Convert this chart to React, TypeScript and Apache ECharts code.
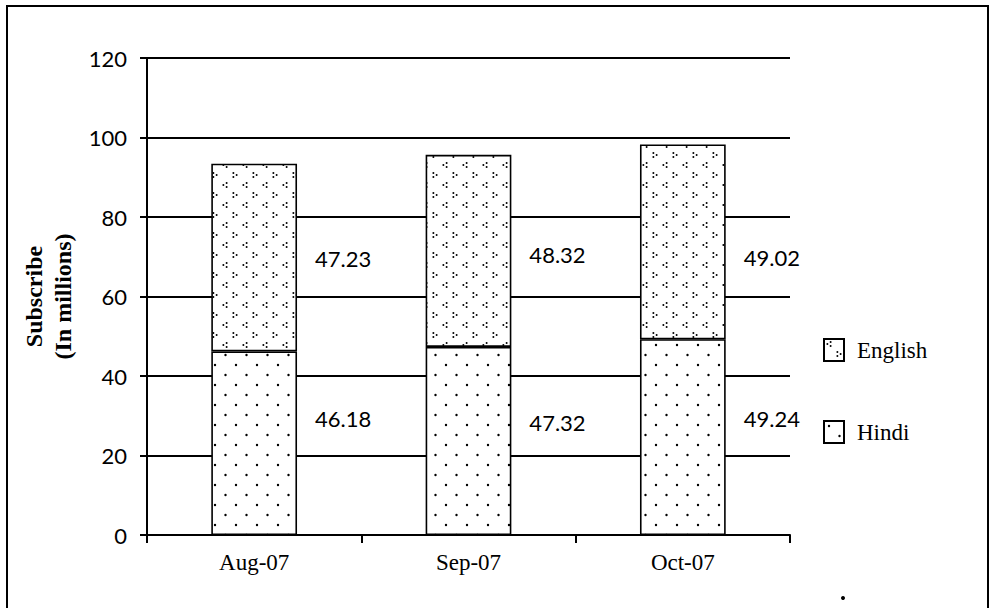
import React, { useEffect, useRef } from "react";
import * as echarts from "echarts";

const categories = ["Aug-07", "Sep-07", "Oct-07"];
const hindi = [46.18, 47.32, 49.24];
const english = [47.23, 48.32, 49.02];
const yTicks = { min: 0, max: 120, interval: 20 };
// vertical nudges (px) of the value labels, as placed in the original
const hindiLabelDy = [-25, -18, -19];
const englishLabelDy = [1, 4, 16];

function svgUrl(body: string, w: number, h: number) {
  const s = `<svg xmlns="http://www.w3.org/2000/svg" width="${w}" height="${h}"><rect width="${w}" height="${h}" fill="#fff"/>${body}</svg>`;
  return "data:image/svg+xml;charset=utf-8," + encodeURIComponent(s);
}

const hindiPattern = {
  image: svgUrl(
    `<circle cx="5" cy="5" r="1.2" fill="#000"/><circle cx="15.5" cy="15" r="1.2" fill="#000"/>`,
    21,
    20
  ),
  imageWidth: 21,
  imageHeight: 20,
  repeat: "repeat",
};

function chev(cx: number, cy: number, left: boolean) {
  const d = left ? 1 : -1;
  return `<circle cx="${cx + d * 1.6}" cy="${cy - 1.9}" r="1" fill="#000"/><circle cx="${cx - d * 1.6}" cy="${cy}" r="1" fill="#000"/><circle cx="${cx + d * 1.6}" cy="${cy + 1.9}" r="1" fill="#000"/>`;
}

const englishPattern = {
  image: svgUrl(chev(5, 5, true) + chev(15, 15, false), 20, 20),
  imageWidth: 20,
  imageHeight: 20,
  repeat: "repeat",
};

export default function App() {
  const ref = useRef<HTMLDivElement>(null);
  useEffect(() => {
    if (!ref.current) return;
    const chart = echarts.init(ref.current, null, { renderer: "svg" });
    const labelFont = { fontFamily: "Lato", fontSize: 22, color: "#000" };
    const mkData = (vals: number[], dys: number[]) =>
      vals.map((v, i) => ({ value: v, label: { offset: [0, dys[i]] } }));
    chart.setOption({
      animation: false,
      backgroundColor: "#fff",
      grid: { left: 147, right: 203, top: 58, bottom: 73 },
      legend: {
        orient: "vertical",
        left: 823,
        top: 338,
        padding: 0,
        icon: "rect",
        itemWidth: 20,
        itemHeight: 22,
        itemGap: 58,
        data: ["English", "Hindi"],
        textStyle: {
          fontFamily: "Liberation Serif",
          fontSize: 23,
          color: "#000",
          padding: [0, 0, 0, 8],
        },
      },
      xAxis: {
        type: "category",
        data: categories,
        axisLine: { lineStyle: { color: "#000", width: 2 } },
        axisTick: { show: true, length: 8, lineStyle: { color: "#000", width: 2 } },
        axisLabel: {
          margin: 16,
          fontFamily: "Liberation Serif",
          fontSize: 23,
          color: "#000",
        },
      },
      yAxis: {
        type: "value",
        min: yTicks.min,
        max: yTicks.max,
        interval: yTicks.interval,
        name: "Subscribe\n(In millions)",
        nameLocation: "middle",
        nameRotate: 90,
        nameGap: 59,
        nameTextStyle: {
          fontFamily: "Liberation Serif",
          fontWeight: "bold",
          fontSize: 24,
          lineHeight: 29,
          color: "#000",
        },
        axisLine: { show: true, lineStyle: { color: "#000", width: 2 } },
        axisTick: { show: true, length: 7, lineStyle: { color: "#000", width: 2 } },
        axisLabel: { margin: 20, ...labelFont },
        splitLine: { show: true, lineStyle: { color: "#000", width: 2.2 } },
      },
      series: [
        {
          name: "Hindi",
          type: "bar",
          stack: "total",
          barWidth: "40%",
          data: mkData(hindi, hindiLabelDy),
          itemStyle: { color: hindiPattern, borderColor: "#000", borderWidth: 1.6 },
          label: {
            show: true,
            position: "right",
            distance: 18,
            formatter: (p: any) => Number(p.value).toFixed(2),
            ...labelFont,
          },
        },
        {
          name: "English",
          type: "bar",
          stack: "total",
          barWidth: "40%",
          data: mkData(english, englishLabelDy),
          itemStyle: { color: englishPattern, borderColor: "#000", borderWidth: 1.6 },
          label: {
            show: true,
            position: "right",
            distance: 18,
            formatter: (p: any) => Number(p.value).toFixed(2),
            ...labelFont,
          },
        },
      ],
      graphic: [
        {
          type: "rect",
          shape: { x: 7, y: 6, width: 981, height: 640 },
          style: { fill: "none", stroke: "#000", lineWidth: 2 },
          silent: true,
        },
        {
          type: "circle",
          shape: { cx: 843, cy: 598, r: 2 },
          style: { fill: "#000" },
          silent: true,
        },
      ],
    });
    return () => chart.dispose();
  }, []);
  return (
    <div
      ref={ref}
      style={{ position: "fixed", left: 0, top: 0, width: 993, height: 608 }}
    />
  );
}
